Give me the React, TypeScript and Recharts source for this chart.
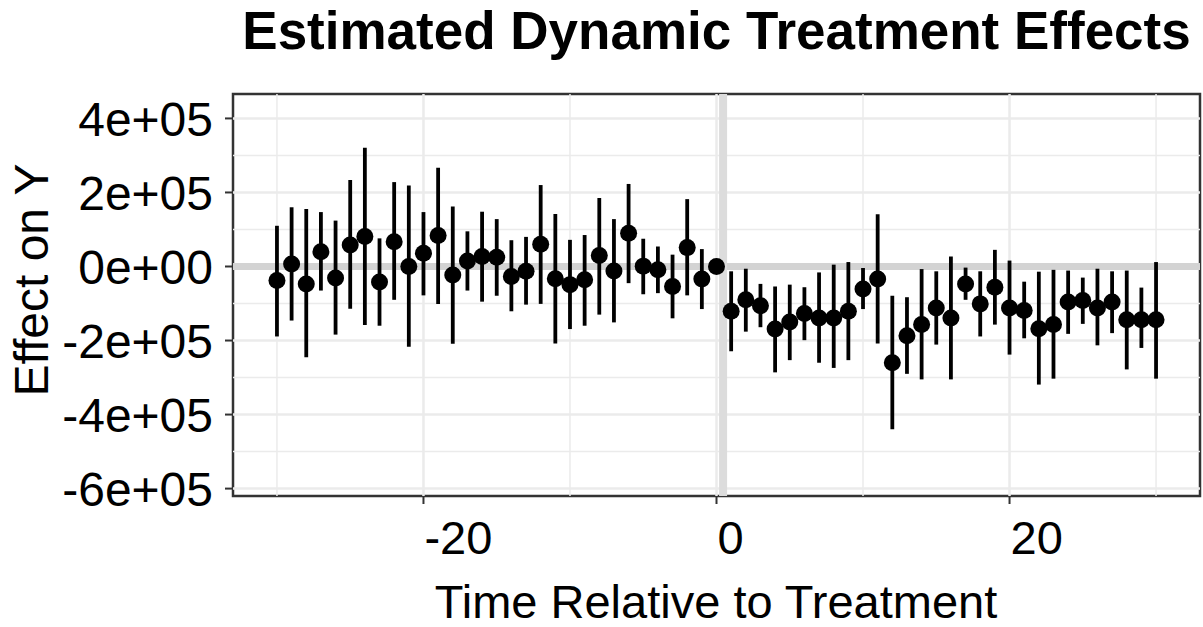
import React from "react";
import {
  ComposedChart,
  ErrorBar,
  ReferenceArea,
  ReferenceLine,
  Scatter,
  XAxis,
  YAxis,
} from "recharts";

// event time, point estimate, 95% CI bounds
const periods = [
  -30, -29, -28, -27, -26, -25, -24, -23, -22, -21, -20, -19, -18, -17, -16, -15,
  -14, -13, -12, -11, -10, -9, -8, -7, -6, -5, -4, -3, -2, -1, 0, 1, 2, 3, 4, 5,
  6, 7, 8, 9, 10, 11, 12, 13, 14, 15, 16, 17, 18, 19, 20, 21, 22, 23, 24, 25, 26,
  27, 28, 29, 30,
];

const estimates = [
  -38000, 7000, -47000, 40000, -31000, 58000, 81000, -42000, 67000, 0, 36000,
  84000, -23000, 15000, 27000, 25000, -27000, -13000, 60000, -33000, -49000,
  -36000, 30000, -12000, 90000, 1000, -9000, -54000, 51000, -34000, 0,
  -121000, -90000, -106000, -169000, -150000, -127000, -139000, -139000,
  -121000, -61000, -34000, -260000, -187000, -157000, -112000, -139000, -47000,
  -101000, -56000, -112000, -119000, -168000, -157000, -96000, -92000, -112000,
  -96000, -144000, -144000, -144000,
];

const lower = [
  -189000, -146000, -245000, -65000, -184000, -114000, -158000, -160000,
  -90000, -217000, -78000, -101000, -209000, -65000, -95000, -79000, -121000,
  -103000, -101000, -208000, -169000, -160000, -130000, -151000, -45000,
  -75000, -72000, -140000, -78000, -115000, 0,
  -229000, -176000, -164000, -286000, -253000, -199000, -260000, -274000,
  -253000, -115000, -208000, -440000, -290000, -305000, -211000, -305000,
  -90000, -189000, -157000, -238000, -194000, -319000, -303000, -182000,
  -155000, -213000, -180000, -278000, -220000, -303000,
];

const upper = [
  110000, 160000, 155000, 147000, 124000, 234000, 321000, 76000, 228000,
  219000, 147000, 267000, 162000, 95000, 148000, 128000, 71000, 80000, 220000,
  142000, 72000, 85000, 185000, 128000, 223000, 75000, 54000, 32000, 182000,
  47000, 0,
  -13000, -6000, -47000, -54000, -49000, -56000, -16000, 5000, 12000, -4000,
  141000, -79000, -83000, -7000, -13000, 27000, -3000, -13000, 45000, 16000,
  -41000, -14000, -9000, -11000, -30000, -6000, -13000, -11000, -57000, 12000,
];

const xTicks = [-20, 0, 20];
const xMinor = [-30, -10, 10, 30];
const yTicks = [-600000, -400000, -200000, 0, 200000, 400000];
const yTickLabels = ["-6e+05", "-4e+05", "-2e+05", "0e+00", "2e+05", "4e+05"];
const yMinor = [-500000, -300000, -100000, 100000, 300000];

const X_DOMAIN: [number, number] = [-33, 33];
const Y_DOMAIN: [number, number] = [-620000, 466000];
const TREAT_LINE_X = 0.45;

const FONT = '"Liberation Sans", Arial, Helvetica, sans-serif';
const GRID = "#ebebeb";

const rows = periods.map((t, i) => ({
  t,
  est: estimates[i],
  ci: [estimates[i] - lower[i], upper[i] - estimates[i]],
}));

const XTick = ({ x, y, payload }: any) => (
  <text x={x + 1} y={y} dy={48} textAnchor="start" fontSize={47} fontFamily={FONT} fill="#000">
    {payload.value}
  </text>
);

const YTick = ({ x, y, payload }: any) => {
  const idx = yTicks.indexOf(payload.value);
  return (
    <text x={x} y={y} dy="0.36em" textAnchor="end" fontSize={48} fontFamily={FONT} fill="#000">
      {idx >= 0 ? yTickLabels[idx] : payload.value}
    </text>
  );
};

const Dot = ({ cx, cy }: any) => <circle cx={cx} cy={cy} r={8.5} fill="#000" />;

export default function App() {
  return (
    <div style={{ position: "fixed", left: 0, top: 0, width: 1203, height: 627, background: "#fff" }}>
      <div
        style={{
          position: "absolute",
          left: 233,
          top: 4,
          width: 967,
          textAlign: "center",
          fontFamily: FONT,
          fontWeight: 700,
          fontSize: 53,
          lineHeight: "53px",
          color: "#000",
        }}
      >
        Estimated Dynamic Treatment Effects
      </div>
      <ComposedChart
        width={1203}
        height={627}
        data={rows}
        margin={{ top: 94, right: 3, bottom: 0, left: 0 }}
      >
        <XAxis
          dataKey="t"
          type="number"
          domain={X_DOMAIN}
          ticks={xTicks}
          allowDataOverflow
          height={131}
          axisLine={false}
          tickSize={8}
          tickLine={{ stroke: "#333", strokeWidth: 2 }}
          tick={<XTick />}
          label={{
            content: () => (
              <text x={716} y={618} textAnchor="middle" fontSize={47} fontFamily={FONT} fill="#000">
                Time Relative to Treatment
              </text>
            ),
          }}
        />
        <YAxis
          dataKey="est"
          type="number"
          domain={Y_DOMAIN}
          ticks={yTicks}
          allowDataOverflow
          width={233}
          axisLine={false}
          tickSize={8}
          tickMargin={12}
          tickLine={{ stroke: "#333", strokeWidth: 2 }}
          tick={<YTick />}
          label={{
            content: () => (
              <text
                x={48}
                y={280}
                transform="rotate(-90, 48, 280)"
                textAnchor="middle"
                fontSize={48}
                fontFamily={FONT}
                fill="#000"
              >
                Effect on Y
              </text>
            ),
          }}
        />

        {yMinor.map((v) => (
          <ReferenceLine key={`ym${v}`} y={v} stroke={GRID} strokeWidth={1.5} />
        ))}
        {yTicks.map((v) => (
          <ReferenceLine key={`yM${v}`} y={v} stroke={GRID} strokeWidth={2.5} />
        ))}
        {xMinor.map((v) => (
          <ReferenceLine key={`xm${v}`} x={v} stroke={GRID} strokeWidth={1.5} />
        ))}
        {xTicks.map((v) => (
          <ReferenceLine key={`xM${v}`} x={v} stroke={GRID} strokeWidth={2.5} />
        ))}

        <ReferenceLine y={0} stroke="#d3d3d3" strokeWidth={7} />
        <ReferenceLine x={TREAT_LINE_X} stroke="#dcdcdc" strokeWidth={8} />

        <Scatter dataKey="est" shape={<Dot />} isAnimationActive={false}>
          <ErrorBar dataKey="ci" direction="y" width={0} stroke="#000" strokeWidth={3.8} />
        </Scatter>

        <ReferenceArea
          x1={X_DOMAIN[0]}
          x2={X_DOMAIN[1]}
          y1={Y_DOMAIN[0]}
          y2={Y_DOMAIN[1]}
          fill="none"
          fillOpacity={0}
          stroke="#333"
          strokeWidth={2.5}
        />
      </ComposedChart>
    </div>
  );
}
